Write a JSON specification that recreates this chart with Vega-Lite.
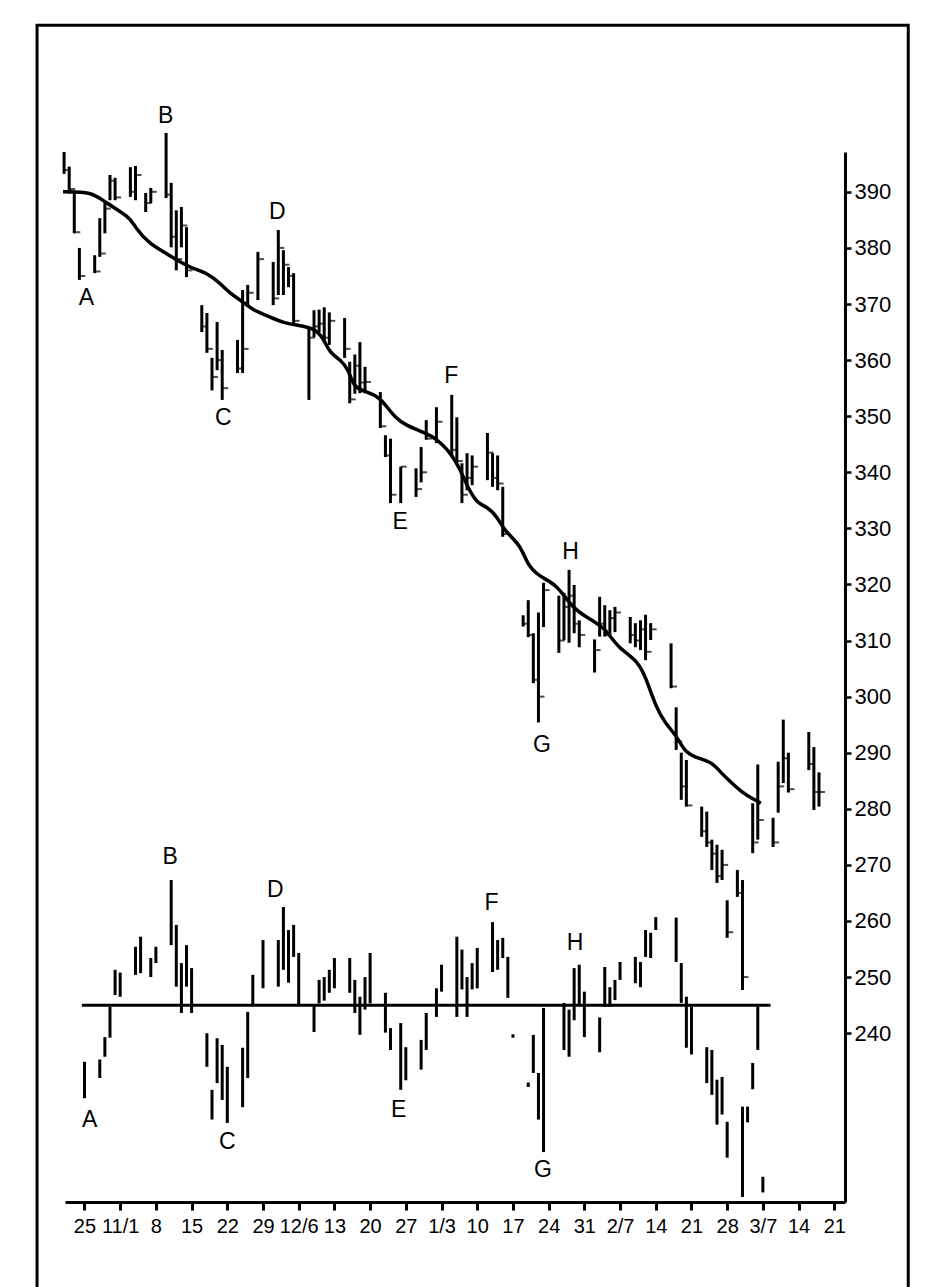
{
  "$schema": "https://vega.github.io/schema/vega-lite/v6.json",
  "width": 780,
  "height": 1050,
  "autosize": {"type": "none"},
  "padding": {"left": 65, "top": 152, "right": 87, "bottom": 85},
  "background": "white",
  "config": {"view": {"stroke": null}, "font": "Liberation Sans"},
  "datasets": {
    "price": [
      {"d": -4, "hi": 397.1, "lo": 393.2, "c": 393.9},
      {"d": -3, "hi": 394.5, "lo": 389.7, "c": 390.5},
      {"d": -2, "hi": 390.0, "lo": 382.6, "c": 382.8},
      {"d": -1, "hi": 380.0, "lo": 374.3, "c": 375.0},
      {"d": 2, "hi": 378.7, "lo": 375.5, "c": 375.8},
      {"d": 3, "hi": 385.3, "lo": 378.4, "c": 379.0},
      {"d": 4, "hi": 388.2, "lo": 382.6, "c": 387.0},
      {"d": 5, "hi": 393.0, "lo": 388.5, "c": 392.0},
      {"d": 6, "hi": 392.5, "lo": 388.5, "c": 389.0},
      {"d": 9, "hi": 394.4, "lo": 389.1, "c": 390.0},
      {"d": 10, "hi": 394.6, "lo": 388.5, "c": 393.0},
      {"d": 12, "hi": 389.8, "lo": 386.4, "c": 388.0},
      {"d": 13, "hi": 390.7, "lo": 388.0, "c": 390.0},
      {"d": 16, "hi": 400.5, "lo": 388.9, "c": 389.5},
      {"d": 17, "hi": 391.6, "lo": 380.1, "c": 382.0},
      {"d": 18, "hi": 386.7, "lo": 376.0, "c": 378.0},
      {"d": 19, "hi": 387.3, "lo": 380.1, "c": 384.0},
      {"d": 20, "hi": 383.7, "lo": 374.8, "c": 376.0},
      {"d": 23, "hi": 369.8, "lo": 365.0, "c": 366.0},
      {"d": 24, "hi": 368.4, "lo": 361.3, "c": 362.0},
      {"d": 25, "hi": 360.4, "lo": 354.6, "c": 357.0},
      {"d": 26, "hi": 366.8, "lo": 358.2, "c": 360.0},
      {"d": 27, "hi": 361.8, "lo": 352.9, "c": 355.0},
      {"d": 30, "hi": 363.6, "lo": 357.7, "c": 358.5},
      {"d": 31, "hi": 372.5, "lo": 357.7, "c": 362.0},
      {"d": 32, "hi": 373.4, "lo": 369.5, "c": 372.0},
      {"d": 34, "hi": 379.3, "lo": 370.7, "c": 378.0},
      {"d": 37, "hi": 377.5, "lo": 369.8, "c": 371.0},
      {"d": 38, "hi": 383.2, "lo": 371.6, "c": 380.0},
      {"d": 39, "hi": 379.6, "lo": 371.6, "c": 377.0},
      {"d": 40, "hi": 376.6, "lo": 373.0, "c": 375.0},
      {"d": 41, "hi": 375.5, "lo": 366.6, "c": 367.0},
      {"d": 44, "hi": 365.9, "lo": 352.9, "c": 364.0},
      {"d": 45, "hi": 368.9, "lo": 364.1, "c": 366.0},
      {"d": 46, "hi": 369.0, "lo": 365.0, "c": 366.5},
      {"d": 47, "hi": 369.4, "lo": 363.5, "c": 364.0},
      {"d": 48, "hi": 368.5, "lo": 362.7, "c": 367.0},
      {"d": 51, "hi": 367.5, "lo": 360.4, "c": 362.0},
      {"d": 52, "hi": 359.7, "lo": 352.3, "c": 353.0},
      {"d": 53, "hi": 361.0, "lo": 354.0, "c": 359.0},
      {"d": 54, "hi": 363.2, "lo": 354.1, "c": 356.0},
      {"d": 55, "hi": 358.8, "lo": 354.1, "c": 356.1},
      {"d": 58, "hi": 354.3, "lo": 347.9, "c": 348.2},
      {"d": 59, "hi": 346.6, "lo": 342.7, "c": 343.0},
      {"d": 60, "hi": 346.0, "lo": 334.5, "c": 336.0},
      {"d": 62, "hi": 341.0, "lo": 334.5, "c": 341.0},
      {"d": 65, "hi": 340.7, "lo": 335.6, "c": 337.0},
      {"d": 66, "hi": 344.5, "lo": 338.2, "c": 340.0},
      {"d": 67, "hi": 349.3, "lo": 345.8, "c": 346.0},
      {"d": 69, "hi": 351.6, "lo": 345.2, "c": 349.0},
      {"d": 72, "hi": 353.8, "lo": 342.7, "c": 344.0},
      {"d": 73, "hi": 349.8, "lo": 341.8, "c": 342.0},
      {"d": 74, "hi": 341.6, "lo": 334.5, "c": 336.0},
      {"d": 75, "hi": 343.4, "lo": 336.8, "c": 339.0},
      {"d": 76, "hi": 343.0, "lo": 337.7, "c": 341.0},
      {"d": 79, "hi": 347.0, "lo": 338.6, "c": 343.5},
      {"d": 80, "hi": 343.4, "lo": 337.4, "c": 339.0},
      {"d": 81, "hi": 343.0, "lo": 336.8, "c": 338.0},
      {"d": 82, "hi": 337.4, "lo": 328.5, "c": 329.0},
      {"d": 86, "hi": 314.5, "lo": 312.5, "c": 313.0},
      {"d": 87, "hi": 317.2, "lo": 310.6, "c": 311.0},
      {"d": 88, "hi": 311.3, "lo": 302.4, "c": 303.0},
      {"d": 89, "hi": 315.0, "lo": 295.4, "c": 300.0},
      {"d": 90, "hi": 320.3, "lo": 312.4, "c": 319.0},
      {"d": 93, "hi": 318.0, "lo": 307.8, "c": 310.0},
      {"d": 94, "hi": 318.5, "lo": 310.1, "c": 316.0},
      {"d": 95, "hi": 322.6, "lo": 309.6, "c": 318.0},
      {"d": 96, "hi": 319.9, "lo": 311.3, "c": 313.0},
      {"d": 97, "hi": 313.6, "lo": 308.8, "c": 311.0},
      {"d": 100, "hi": 310.2, "lo": 304.3, "c": 308.3},
      {"d": 101, "hi": 317.8, "lo": 310.7, "c": 313.0},
      {"d": 102, "hi": 316.3, "lo": 310.7, "c": 311.0},
      {"d": 103, "hi": 315.4, "lo": 310.7, "c": 314.0},
      {"d": 104, "hi": 316.0, "lo": 311.5, "c": 315.0},
      {"d": 107, "hi": 314.2, "lo": 309.5, "c": 311.0},
      {"d": 108, "hi": 313.1, "lo": 308.8, "c": 310.0},
      {"d": 109, "hi": 313.6, "lo": 308.3, "c": 312.0},
      {"d": 110, "hi": 314.6, "lo": 306.5, "c": 308.0},
      {"d": 111, "hi": 313.1, "lo": 310.1, "c": 312.0},
      {"d": 115, "hi": 309.5, "lo": 301.5, "c": 301.8},
      {"d": 116, "hi": 298.1, "lo": 290.5, "c": 292.0},
      {"d": 117, "hi": 290.0, "lo": 281.6, "c": 284.0},
      {"d": 118, "hi": 288.7, "lo": 280.4, "c": 280.6},
      {"d": 121, "hi": 280.4, "lo": 275.0, "c": 276.0},
      {"d": 122, "hi": 279.5, "lo": 273.2, "c": 274.0},
      {"d": 123, "hi": 274.5, "lo": 269.1, "c": 272.0},
      {"d": 124, "hi": 273.6, "lo": 266.8, "c": 268.0},
      {"d": 125, "hi": 272.7, "lo": 267.3, "c": 270.0},
      {"d": 126, "hi": 263.7, "lo": 257.0, "c": 258.0},
      {"d": 128, "hi": 269.1, "lo": 264.3, "c": 265.0},
      {"d": 129, "hi": 267.3, "lo": 247.7, "c": 250.0},
      {"d": 131, "hi": 281.0, "lo": 272.1, "c": 274.0},
      {"d": 132, "hi": 287.9, "lo": 274.5, "c": 278.0},
      {"d": 135, "hi": 278.4, "lo": 273.2, "c": 274.0},
      {"d": 136, "hi": 288.4, "lo": 279.3, "c": 284.0},
      {"d": 137, "hi": 295.9, "lo": 284.6, "c": 289.0},
      {"d": 138, "hi": 290.0, "lo": 282.9, "c": 283.5},
      {"d": 142, "hi": 293.7, "lo": 286.9, "c": 288.0},
      {"d": 143, "hi": 291.0, "lo": 279.8, "c": 283.0},
      {"d": 144, "hi": 286.5, "lo": 280.4, "c": 283.0}
    ],
    "osc": [
      {"d": 0, "hi": 234.9, "lo": 228.4},
      {"d": 3, "hi": 235.3, "lo": 232.0},
      {"d": 4, "hi": 239.3, "lo": 235.8},
      {"d": 5, "hi": 244.7, "lo": 239.2},
      {"d": 6, "hi": 251.3, "lo": 246.8},
      {"d": 7, "hi": 250.8, "lo": 246.5},
      {"d": 10, "hi": 255.4, "lo": 250.4},
      {"d": 11, "hi": 257.2, "lo": 250.7},
      {"d": 13, "hi": 253.4, "lo": 250.0},
      {"d": 14, "hi": 255.4, "lo": 252.5},
      {"d": 17, "hi": 267.3, "lo": 255.7},
      {"d": 18, "hi": 259.3, "lo": 248.3},
      {"d": 19, "hi": 252.5, "lo": 243.6},
      {"d": 20, "hi": 255.7, "lo": 248.3},
      {"d": 21, "hi": 251.6, "lo": 243.6},
      {"d": 24, "hi": 240.0, "lo": 234.0},
      {"d": 25, "hi": 229.9, "lo": 224.6},
      {"d": 26, "hi": 239.1, "lo": 231.1},
      {"d": 27, "hi": 237.9, "lo": 228.1},
      {"d": 28, "hi": 234.0, "lo": 224.0},
      {"d": 31, "hi": 237.4, "lo": 226.8},
      {"d": 32, "hi": 243.8, "lo": 232.0},
      {"d": 33, "hi": 250.4, "lo": 245.0},
      {"d": 35, "hi": 256.6, "lo": 248.0},
      {"d": 38, "hi": 256.6, "lo": 248.3},
      {"d": 39, "hi": 262.5, "lo": 251.3},
      {"d": 40, "hi": 258.4, "lo": 249.0},
      {"d": 41, "hi": 259.3, "lo": 253.6},
      {"d": 42, "hi": 254.3, "lo": 245.0},
      {"d": 45, "hi": 245.0, "lo": 240.2},
      {"d": 46, "hi": 249.5, "lo": 245.3},
      {"d": 47, "hi": 250.0, "lo": 245.8},
      {"d": 48, "hi": 251.3, "lo": 247.2},
      {"d": 49, "hi": 253.4, "lo": 248.0},
      {"d": 52, "hi": 253.4, "lo": 247.2},
      {"d": 53, "hi": 249.5, "lo": 243.6},
      {"d": 54, "hi": 246.5, "lo": 239.7},
      {"d": 55, "hi": 250.0, "lo": 244.2},
      {"d": 56, "hi": 254.3, "lo": 245.3},
      {"d": 59, "hi": 247.2, "lo": 240.1},
      {"d": 60, "hi": 240.9, "lo": 237.0},
      {"d": 62, "hi": 241.8, "lo": 229.9},
      {"d": 63, "hi": 237.5, "lo": 231.6},
      {"d": 66, "hi": 238.8, "lo": 233.5},
      {"d": 67, "hi": 243.6, "lo": 237.0},
      {"d": 69, "hi": 248.0, "lo": 242.9},
      {"d": 70, "hi": 252.2, "lo": 247.4},
      {"d": 73, "hi": 257.2, "lo": 242.9},
      {"d": 74, "hi": 254.9, "lo": 247.8},
      {"d": 75, "hi": 250.0, "lo": 242.9},
      {"d": 76, "hi": 252.5, "lo": 247.8},
      {"d": 77, "hi": 255.2, "lo": 248.0},
      {"d": 80, "hi": 259.8, "lo": 250.9},
      {"d": 81, "hi": 256.6, "lo": 251.3},
      {"d": 82, "hi": 257.0, "lo": 253.4},
      {"d": 83, "hi": 253.6, "lo": 246.3},
      {"d": 84, "hi": 239.8, "lo": 239.2},
      {"d": 87, "hi": 231.2, "lo": 230.4},
      {"d": 88, "hi": 239.7, "lo": 232.9},
      {"d": 89, "hi": 232.9, "lo": 224.6},
      {"d": 90, "hi": 244.5, "lo": 218.8},
      {"d": 94, "hi": 245.4, "lo": 237.0},
      {"d": 95, "hi": 244.2, "lo": 235.8},
      {"d": 96, "hi": 251.6, "lo": 242.3},
      {"d": 97, "hi": 252.2, "lo": 244.8},
      {"d": 98, "hi": 247.4, "lo": 239.3},
      {"d": 101, "hi": 242.8, "lo": 236.6},
      {"d": 102, "hi": 251.8, "lo": 244.7},
      {"d": 103, "hi": 248.2, "lo": 244.7},
      {"d": 104, "hi": 249.5, "lo": 245.9},
      {"d": 105, "hi": 252.7, "lo": 249.5},
      {"d": 108, "hi": 253.6, "lo": 248.9},
      {"d": 109, "hi": 252.7, "lo": 248.2},
      {"d": 110, "hi": 258.4, "lo": 253.6},
      {"d": 111, "hi": 257.9, "lo": 253.4},
      {"d": 112, "hi": 260.7, "lo": 258.4},
      {"d": 116, "hi": 260.6, "lo": 252.7},
      {"d": 117, "hi": 252.5, "lo": 245.4},
      {"d": 118, "hi": 246.5, "lo": 237.4},
      {"d": 119, "hi": 244.7, "lo": 236.2},
      {"d": 122, "hi": 237.5, "lo": 231.1},
      {"d": 123, "hi": 237.0, "lo": 229.0},
      {"d": 124, "hi": 231.7, "lo": 223.7},
      {"d": 125, "hi": 232.2, "lo": 225.5},
      {"d": 126, "hi": 224.2, "lo": 217.8},
      {"d": 129, "hi": 226.9, "lo": 210.8},
      {"d": 130, "hi": 226.9, "lo": 224.1},
      {"d": 131, "hi": 234.7, "lo": 230.0},
      {"d": 132, "hi": 244.8, "lo": 237.0},
      {"d": 133, "hi": 214.4, "lo": 211.6}
    ],
    "ma": [
      {"d": -4.2, "v": 390.0}, {"d": 1.5, "v": 390.0}, {"d": 3.9, "v": 388.2},
      {"d": 8.9, "v": 385.5}, {"d": 9.9, "v": 383.7}, {"d": 12.6, "v": 380.8},
      {"d": 16.1, "v": 379.0}, {"d": 19.1, "v": 377.3}, {"d": 21.0, "v": 376.4},
      {"d": 24.1, "v": 375.5}, {"d": 26.6, "v": 373.7}, {"d": 28.5, "v": 371.9},
      {"d": 31.2, "v": 370.3}, {"d": 33.1, "v": 368.9}, {"d": 35.6, "v": 368.0},
      {"d": 39.0, "v": 366.6}, {"d": 42.1, "v": 366.2}, {"d": 44.8, "v": 365.7},
      {"d": 46.8, "v": 364.1}, {"d": 48.0, "v": 361.3}, {"d": 50.3, "v": 360.0},
      {"d": 51.8, "v": 358.2}, {"d": 52.8, "v": 355.2}, {"d": 54.7, "v": 354.5},
      {"d": 57.4, "v": 353.6}, {"d": 58.9, "v": 352.2}, {"d": 60.8, "v": 349.8},
      {"d": 63.2, "v": 348.3}, {"d": 65.7, "v": 347.4}, {"d": 68.1, "v": 346.5},
      {"d": 70.0, "v": 345.1}, {"d": 71.9, "v": 343.3}, {"d": 73.8, "v": 340.3},
      {"d": 75.0, "v": 337.5}, {"d": 77.0, "v": 334.4}, {"d": 78.9, "v": 333.9},
      {"d": 80.9, "v": 332.1}, {"d": 82.3, "v": 329.6}, {"d": 85.6, "v": 326.9},
      {"d": 86.7, "v": 323.7}, {"d": 89.1, "v": 321.4}, {"d": 92.5, "v": 320.1},
      {"d": 95.5, "v": 316.0}, {"d": 98.3, "v": 314.2}, {"d": 102.0, "v": 312.4},
      {"d": 104.4, "v": 308.8}, {"d": 108.7, "v": 306.3}, {"d": 110.3, "v": 302.7},
      {"d": 112.1, "v": 298.1}, {"d": 113.6, "v": 295.6}, {"d": 116.3, "v": 292.7},
      {"d": 117.7, "v": 290.2}, {"d": 119.6, "v": 289.2}, {"d": 123.0, "v": 288.4},
      {"d": 125.1, "v": 286.1}, {"d": 126.7, "v": 284.8}, {"d": 128.8, "v": 283.0},
      {"d": 131.3, "v": 281.6}, {"d": 132.6, "v": 281.0}
    ],
    "labels": [
      {"d": 0.4, "v": 371.1, "t": "A"},
      {"d": 15.9, "v": 403.5, "t": "B"},
      {"d": 27.2, "v": 349.7, "t": "C"},
      {"d": 37.8, "v": 386.4, "t": "D"},
      {"d": 61.9, "v": 331.1, "t": "E"},
      {"d": 71.9, "v": 357.2, "t": "F"},
      {"d": 89.7, "v": 291.4, "t": "G"},
      {"d": 95.3, "v": 325.8, "t": "H"},
      {"d": 1.0, "v": 224.6, "t": "A"},
      {"d": 16.8, "v": 271.4, "t": "B"},
      {"d": 28.0, "v": 220.6, "t": "C"},
      {"d": 37.4, "v": 265.6, "t": "D"},
      {"d": 61.6, "v": 226.3, "t": "E"},
      {"d": 79.8, "v": 263.2, "t": "F"},
      {"d": 89.9, "v": 215.6, "t": "G"},
      {"d": 96.2, "v": 256.1, "t": "H"}
    ]
  },
  "layer": [
    {
      "data": {"name": "price"},
      "mark": {"type": "rule", "color": "black", "strokeWidth": 3},
      "encoding": {
        "x": {
          "field": "d", "type": "quantitative",
          "scale": {"domain": [-3.82, 149.1], "nice": false, "zero": false},
          "axis": {
            "orient": "bottom", "title": null, "grid": false, "tickCount": 40,
            "values": [0, 7, 14, 21, 28, 35, 42, 49, 56, 63, 70, 77, 84, 91, 98, 105, 112, 119, 126, 133, 140, 147],
            "labelExpr": "['25','11/1','8','15','22','29','12/6','13','20','27','1/3','10','17','24','31','2/7','14','21','28','3/7','14','21'][round(datum.value / 7)]",
            "domainColor": "black", "domainWidth": 3, "tickColor": "black", "tickWidth": 3, "tickSize": 8,
            "labelColor": "black", "labelFont": "Liberation Sans", "labelFontSize": 20, "labelPadding": 6,
            "labelFlush": false, "labelOverlap": false
          }
        },
        "y": {
          "field": "hi", "type": "quantitative",
          "scale": {"domain": [209.9, 397.1], "nice": false, "zero": false},
          "axis": {
            "orient": "right", "title": null, "grid": false, "tickCount": 40,
            "values": [240, 250, 260, 270, 280, 290, 300, 310, 320, 330, 340, 350, 360, 370, 380, 390],
            "domainColor": "black", "domainWidth": 3, "tickColor": "black", "tickWidth": 2.5, "tickSize": 6,
            "labelColor": "black", "labelFont": "Liberation Sans", "labelFontSize": 22, "labelPadding": 3,
            "labelOverlap": false
          }
        },
        "y2": {"field": "lo"}
      }
    },
    {
      "data": {"name": "price"},
      "mark": {"type": "tick", "orient": "horizontal", "color": "black", "size": 6, "thickness": 2, "xOffset": 3},
      "encoding": {
        "x": {"field": "d", "type": "quantitative", "title": null},
        "y": {"field": "c", "type": "quantitative", "title": null}
      }
    },
    {
      "data": {"name": "osc"},
      "mark": {"type": "rule", "color": "black", "strokeWidth": 3},
      "encoding": {
        "x": {"field": "d", "type": "quantitative", "title": null},
        "y": {"field": "hi", "type": "quantitative", "title": null},
        "y2": {"field": "lo"}
      }
    },
    {
      "data": {"values": [{}]},
      "mark": {"type": "rule", "color": "black", "strokeWidth": 3},
      "encoding": {
        "x": {"datum": -0.5, "type": "quantitative", "title": null},
        "x2": {"datum": 134.5},
        "y": {"datum": 245, "type": "quantitative", "title": null}
      }
    },
    {
      "data": {"name": "ma"},
      "mark": {"type": "line", "color": "black", "strokeWidth": 3.5, "interpolate": "basis"},
      "encoding": {
        "x": {"field": "d", "type": "quantitative", "title": null},
        "y": {"field": "v", "type": "quantitative", "title": null}
      }
    },
    {
      "data": {"name": "labels"},
      "mark": {"type": "text", "color": "black", "font": "Liberation Sans", "fontSize": 23, "align": "center", "baseline": "middle"},
      "encoding": {
        "x": {"field": "d", "type": "quantitative", "title": null},
        "y": {"field": "v", "type": "quantitative", "title": null},
        "text": {"field": "t"}
      }
    },
    {
      "data": {"values": [{}]},
      "mark": {"type": "rect", "filled": false, "stroke": "black", "strokeWidth": 3},
      "encoding": {
        "x": {"datum": -9.3, "type": "quantitative", "title": null},
        "x2": {"datum": 161.5},
        "y": {"datum": 419.7, "type": "quantitative", "title": null},
        "y2": {"datum": 190.7}
      }
    }
  ]
}
